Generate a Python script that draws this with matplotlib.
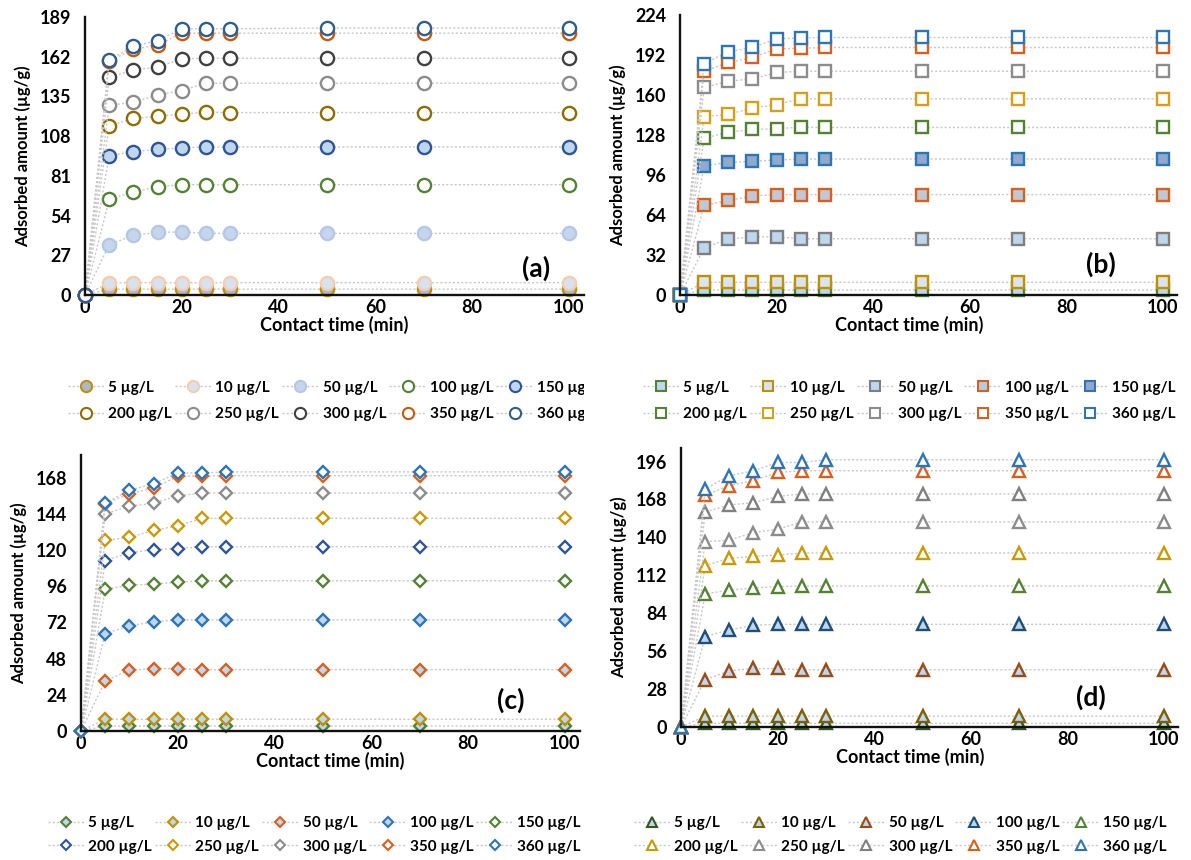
import matplotlib
matplotlib.use("Agg")
import matplotlib.pyplot as plt
from matplotlib.lines import Line2D
from matplotlib.transforms import Bbox, TransformedBbox

plt.rcParams["font.family"] = ["Lato", "DejaVu Sans"]
plt.rcParams["font.weight"] = "bold"

# --- data ---------------------------------------------------------------
time_min = [0, 5, 10, 15, 20, 25, 30, 50, 70, 100]
conc_labels = ["5 µg/L", "10 µg/L", "50 µg/L", "100 µg/L", "150 µg/L",
               "200 µg/L", "250 µg/L", "300 µg/L", "350 µg/L", "360 µg/L"]

# (a) circles
qa = [
    [0, 4, 4, 4, 4, 4, 4, 4, 4, 4],
    [0, 8.4, 8.4, 8.4, 8.4, 8.4, 8.4, 8.4, 8.4, 8.4],
    [0, 34.2, 40.6, 42.6, 42.9, 41.9, 41.9, 41.9, 41.9, 41.9],
    [0, 65, 70.2, 73.6, 75, 75, 75, 75, 75, 75],
    [0, 94.7, 97.4, 99, 100, 100.6, 100.6, 100.6, 100.6, 100.6],
    [0, 115, 120, 121.5, 123, 124.4, 124, 124, 124, 124],
    [0, 129, 131, 136, 139, 144, 144, 144, 144, 144],
    [0, 148, 153, 155, 160.5, 161, 161, 161, 161, 161],
    [0, 159, 167, 170, 178, 178, 178, 178, 178, 178],
    [0, 160, 169, 173, 181, 181, 181, 181.5, 181.5, 181.5],
]
# (b) squares
qb = [
    [0, 4, 4, 4, 4, 4, 4, 4, 4, 4],
    [0, 10.2, 10.2, 10.2, 10.2, 10.2, 10.2, 10.2, 10.2, 10.2],
    [0, 37.6, 44.8, 46.5, 46.5, 45, 45, 45, 45, 45],
    [0, 71.7, 75.7, 79.2, 80.3, 80.3, 80.3, 80.3, 80.3, 80.3],
    [0, 103.4, 106, 107, 108, 108.8, 108.8, 108.8, 108.8, 108.8],
    [0, 125.4, 130.3, 132.4, 133, 134.3, 134, 134, 134, 134],
    [0, 142.6, 144.5, 149.6, 152.3, 157, 157, 157, 157, 157],
    [0, 166, 171, 173, 178, 179, 179, 179, 179, 179],
    [0, 179, 186, 190, 197, 197.4, 198, 198, 198, 198],
    [0, 185, 194.7, 198, 205, 205.5, 206, 206, 206, 206],
]
# (c) diamonds
qc = [
    [0, 3.3, 3.3, 3.3, 3.3, 3.3, 3.3, 3.3, 3.3, 3.3],
    [0, 7.8, 7.8, 7.8, 7.8, 7.8, 7.8, 7.8, 7.8, 7.8],
    [0, 33.2, 40.3, 41.4, 41.4, 40.7, 40.7, 40.7, 40.7, 40.7],
    [0, 64.6, 69.7, 72.4, 73.7, 73.7, 73.7, 73.7, 73.7, 73.7],
    [0, 94, 96.7, 97.4, 98.7, 99.6, 99.6, 99.6, 99.6, 99.6],
    [0, 113, 118.2, 120.2, 121, 122.2, 122.2, 122.2, 122.2, 122.2],
    [0, 126.4, 128.4, 133, 136.1, 141, 141, 141, 141, 141],
    [0, 144, 149, 151, 156, 157.8, 157.8, 157.8, 157.8, 157.8],
    [0, 150.7, 157.4, 161, 168.9, 169, 169.3, 169.3, 169.3, 169.3],
    [0, 151.2, 159.6, 164, 171.1, 171, 171.8, 171.8, 171.8, 171.8],
]
# (d) triangles
qd = [
    [0, 2.7, 2.7, 2.7, 2.7, 2.7, 2.7, 2.7, 2.7, 2.7],
    [0, 8, 8, 8, 8, 8, 8, 8, 8, 8],
    [0, 34.9, 41.5, 43.2, 43.2, 42.2, 42.2, 42.2, 42.2, 42.2],
    [0, 66.8, 71.7, 75.1, 75.8, 75.8, 75.8, 75.8, 75.8, 75.8],
    [0, 98.3, 101, 102.7, 103.6, 104.1, 104.1, 104.1, 104.1, 104.1],
    [0, 119.2, 124.6, 126, 127, 128.5, 128.5, 128.5, 128.5, 128.5],
    [0, 136.8, 138, 143.6, 146, 151.4, 151.4, 151.4, 151.4, 151.4],
    [0, 158.7, 164, 165.6, 170.2, 172.1, 172.1, 172.1, 172.1, 172.1],
    [0, 171, 178.3, 182, 188, 189.2, 189.2, 189.2, 189.2, 189.2],
    [0, 175.8, 185.6, 189.2, 195.3, 195.3, 197.3, 197.3, 197.3, 197.3],
]

# edge colour, face colour per series
style_a = [("#BF9000", "#A9B8CC"), ("#F8CBAD", "#D5E3F1"), ("#B4C7E7", "#C5D6EC"),
           ("#548235", "white"), ("#2F5597", "#BDD7EE"), ("#8C6D00", "white"),
           ("#8C8C8C", "white"), ("#404040", "white"), ("#C55A11", "white"),
           ("#2E5E8E", "white")]
style_b = [("#548235", "#BDD7EE"), ("#BF9000", "#D9E4EE"), ("#7F7F7F", "#BDD7EE"),
           ("#D9601C", "#BFC9D6"), ("#2E75B6", "#8FAACC"), ("#548235", "white"),
           ("#D4A017", "white"), ("#8C8C8C", "white"), ("#D9601C", "white"),
           ("#2E75B6", "white")]
style_c = [("#548235", "#BDD7EE"), ("#BF9000", "#BDD7EE"), ("#D9601C", "#BDD7EE"),
           ("#2E75B6", "#BDD7EE"), ("#548235", "white"), ("#2F5597", "white"),
           ("#C99A06", "white"), ("#8C8C8C", "white"), ("#D9601C", "white"),
           ("#2E75B6", "white")]
style_d = [("#375623", "#BDD7EE"), ("#7F6000", "#BDD7EE"), ("#9E4A14", "#BDD7EE"),
           ("#1F4E79", "#BDD7EE"), ("#548235", "white"), ("#C99A06", "white"),
           ("#8C8C8C", "white"), ("#808080", "white"), ("#D9601C", "white"),
           ("#2E75B6", "white")]

fig = plt.figure(figsize=(11.91, 8.6), dpi=100)
W, H = 1191.0, 860.0


def add_axes(x0, x100, y0, ytop):
    # pixel coords of x=0, x=100, y=0 and top of axis
    w = (x100 - x0) * 1.03
    return fig.add_axes([x0 / W, 1 - y0 / H, w / W, (y0 - ytop) / H])


def panel(ax, data, styles, marker, ms, ymax, ystep, ytop, tag, tagpos,
          leg_pos, leg_space, xlab_x, clip_right=None):
    for vals, (ec, fc) in zip(data, styles):
        ax.plot(time_min, vals, color="#C8C8C8", lw=1.0, ls=(0, (1.5, 1.5)),
                marker=marker, ms=ms, mec=ec, mfc=fc, mew=1.7, clip_on=False)
    ax.set_xlim(0, 103)
    ax.set_ylim(0, ytop)
    ax.set_xticks(range(0, 101, 20))
    ax.set_yticks(range(0, ymax + 1, ystep))
    for s in ("top", "right"):
        ax.spines[s].set_visible(False)
    for s in ("left", "bottom"):
        ax.spines[s].set_linewidth(1.7)
        ax.spines[s].set_color("#111111")
    ax.tick_params(length=0, labelsize=13)
    ax.tick_params(axis="x", pad=3)
    ax.tick_params(axis="y", pad=10)
    ax.set_xlabel("Contact time (min)", fontsize=13, fontweight="bold")
    ax.xaxis.set_label_coords(xlab_x, -0.075)
    ax.xaxis.label.set_va("top")
    ax.set_ylabel("Adsorbed amount (µg/g)", fontsize=12, fontweight="bold", labelpad=6)
    ax.text(tagpos[0], tagpos[1], tag, transform=ax.transAxes, fontsize=19,
            fontweight="bold", ha="center", va="center")
    handles = [Line2D([], [], color="#C8C8C8", lw=1.0, ls=(0, (1.5, 1.5)),
                      marker=marker, ms=ms * 0.85, mec=ec, mfc=fc, mew=1.5)
               for ec, fc in styles]
    order = [0, 5, 1, 6, 2, 7, 3, 8, 4, 9]
    leg = fig.legend([handles[i] for i in order], [conc_labels[i] for i in order],
                     ncol=5, loc="center", bbox_to_anchor=(leg_pos[0] / W, 1 - leg_pos[1] / H),
                     frameon=False, fontsize=11, handlelength=2.4, handletextpad=0.25,
                     columnspacing=0.2, labelspacing=leg_space, borderpad=0)
    if clip_right is not None:
        box = TransformedBbox(Bbox([[0, 0], [clip_right / W, 1]]), fig.transFigure)
        for t in leg.get_texts():
            t.set_clip_box(box)
            t.set_clip_on(True)


ax_a = add_axes(85, 569, 295, 17)
panel(ax_a, qa, style_a, "o", 9.5, 189, 27, 189, "(a)", (0.905, 0.097),
      (334, 401), 0.85, 0.5, clip_right=584)

ax_b = add_axes(680, 1163, 295, 15)
panel(ax_b, qb, style_b, "s", 9, 224, 32, 224, "(b)", (0.846, 0.11),
      (909, 401), 0.85, 0.46)

ax_c = add_axes(81, 565, 731, 455)
panel(ax_c, qc, style_c, "D", 6.5, 168, 24, 183, "(c)", (0.863, 0.112),
      (314, 835), 0.6, 0.5)

ax_d = add_axes(681, 1164, 727, 448)
panel(ax_d, qd, style_d, "^", 9, 196, 28, 206, "(d)", (0.824, 0.108),
      (900, 835), 0.6, 0.46)

fig.savefig("out.png", dpi=100)
